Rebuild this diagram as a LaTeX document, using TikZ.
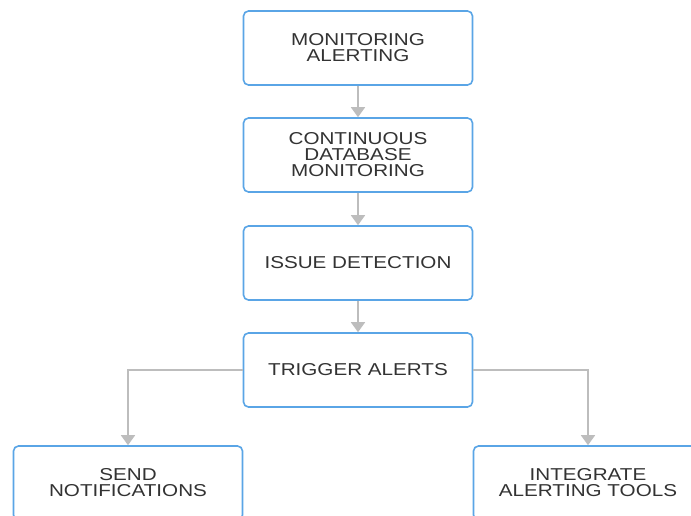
\documentclass[tikz,border=0pt]{standalone}
\usepackage{fontspec}
\setmainfont{Liberation Sans}[FakeStretch=1.2]
\usetikzlibrary{arrows.meta}
\definecolor{boxblue}{HTML}{5AA5E6}
\definecolor{arrgray}{HTML}{BDBDBD}
\definecolor{txt}{HTML}{333333}
\begin{document}
\begin{tikzpicture}[x=1pt,y=-1pt,
  box/.style={draw=boxblue, line width=1.6pt, rounded corners=5pt, minimum width=229pt, minimum height=74pt, align=center, text=txt, font=\fontsize{17.2}{16}\selectfont, inner sep=0pt, fill=white},
  conn/.style={draw=arrgray, line width=1.5pt, -{Triangle[width=14pt,length=10pt]}}]
\useasboundingbox (0,0) rectangle (691,515);
\fill[white] (0,0) rectangle (691,515);
\clip (0,0) rectangle (691,515);
\node[box] (a) at (358,48) {MONITORING\\ALERTING};
\node[box] (b) at (358,155) {CONTINUOUS\\DATABASE\\MONITORING};
\node[box] (c) at (358,263) {ISSUE DETECTION};
\node[box] (d) at (358,370) {TRIGGER ALERTS};
\node[box] (e) at (128,483) {SEND\\NOTIFICATIONS};
\node[box] (f) at (588,483) {INTEGRATE\\ALERTING TOOLS};
\draw[conn] (a) -- (b);
\draw[conn] (b) -- (c);
\draw[conn] (c) -- (d);
\draw[conn] (d.west) -| (e.north);
\draw[conn] (d.east) -| (f.north);
\end{tikzpicture}
\end{document}
